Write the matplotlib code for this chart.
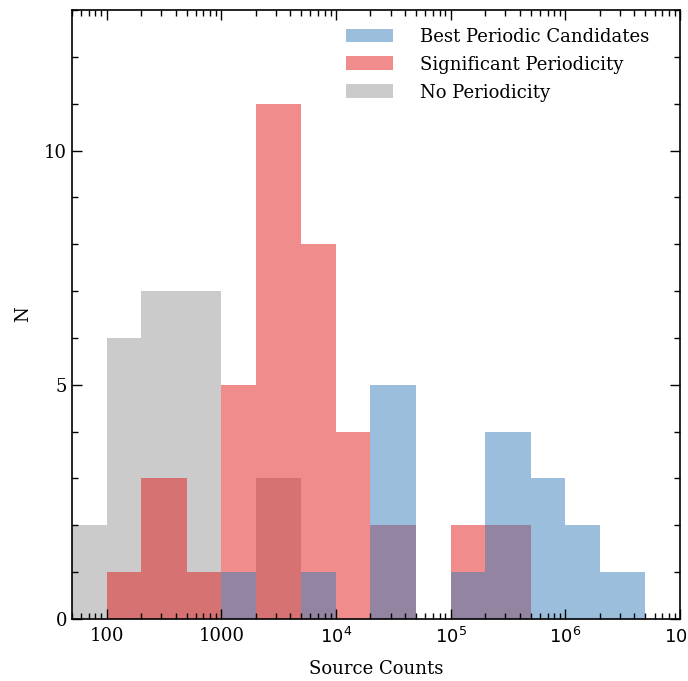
import numpy as np
import matplotlib
matplotlib.use('Agg')
import matplotlib.pyplot as plt
from matplotlib.ticker import FixedLocator, FuncFormatter, LogLocator, MultipleLocator

# bin edges in source counts
bin_edges = [50, 100, 200, 500, 1000, 2000, 5000, 1e4, 2e4, 5e4, 1e5, 2e5, 5e5, 1e6, 2e6, 5e6]

# counts per bin for each class
no_periodicity = [2, 6, 7, 7, 0, 3, 0, 0, 0, 0, 0, 0, 0, 0, 0]
significant = [0, 1, 3, 1, 5, 11, 8, 4, 2, 0, 2, 2, 0, 0, 0]
best_candidates = [0, 0, 0, 0, 1, 0, 1, 0, 5, 0, 1, 4, 3, 2, 1]

labels = ['Best Periodic Candidates', 'Significant Periodicity', 'No Periodicity']

plt.rcParams['font.family'] = ['DejaVu Serif']

fig = plt.figure(figsize=(6.88, 6.81), dpi=100)
ax = fig.add_axes([0.1047, 0.091, 0.8837, 0.8943])

h_gray = ax.stairs(no_periodicity, bin_edges, fill=True, color='#999999', alpha=0.5,
                   label=labels[2])
h_red = ax.stairs(significant, bin_edges, fill=True, color='#e41a1c', alpha=0.5,
                  label=labels[1])
h_blue = ax.stairs(best_candidates, bin_edges, fill=True, color='#377eb8', alpha=0.5,
                   label=labels[0])

ax.set_xscale('log')
ax.set_xlim(50, 1e7)
ax.set_ylim(0, 13)


def fmt(x, pos):
    if x < 1e4:
        return '%d' % x
    return r'$10^{%d}$' % round(np.log10(x))


ax.xaxis.set_major_locator(FixedLocator([1e2, 1e3, 1e4, 1e5, 1e6, 1e7]))
ax.xaxis.set_major_formatter(FuncFormatter(fmt))
ax.xaxis.set_minor_locator(LogLocator(base=10, subs=np.arange(2, 10), numticks=20))
ax.yaxis.set_major_locator(MultipleLocator(5))
ax.yaxis.set_minor_locator(MultipleLocator(1))
ax.tick_params(which='both', direction='in', top=True, right=True, labelsize=13)
ax.tick_params(axis='x', which='major', pad=6)
ax.tick_params(which='major', length=7, width=1)
ax.tick_params(which='minor', length=4, width=1)
for s in ax.spines.values():
    s.set_linewidth(1.2)

ax.set_xlabel('Source Counts', fontsize=13, labelpad=9)
ax.set_ylabel('N', fontsize=13, labelpad=9)

leg = ax.legend(handles=[h_blue, h_red, h_gray], loc='upper right', frameon=False,
                fontsize=13, handlelength=2.6, handleheight=0.8, labelspacing=0.55,
                handletextpad=1.5, borderaxespad=0.58,
                bbox_to_anchor=(1 - 13 / 608, 1))

fig.savefig('out.png', dpi=100)
